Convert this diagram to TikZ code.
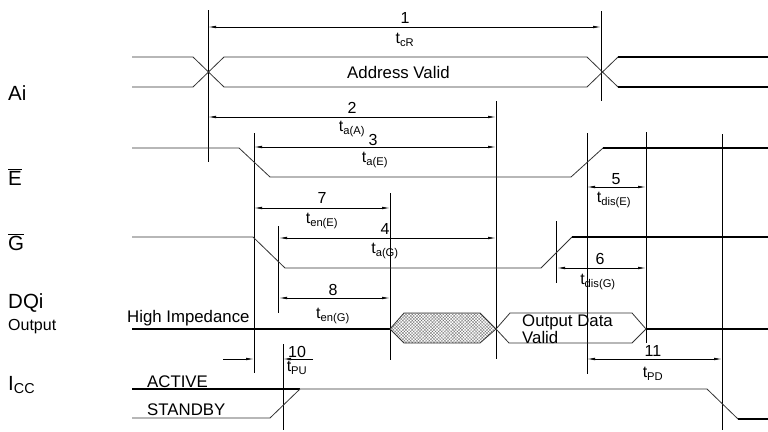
\documentclass[tikz,border=0pt]{standalone}
\usepackage{fontspec}
\setmainfont{Liberation Sans}
\usetikzlibrary{arrows.meta,patterns.meta}
\tikzset{
  sigline/.style={draw=black!80, line width=0.8pt},
  sigbold/.style={draw=black, line width=2.2pt},
  markline/.style={draw=black, line width=0.8pt},
  dim/.style={{Latex[length=8pt,width=2.6pt]}-{Latex[length=8pt,width=2.6pt]}, line width=0.7pt},
  dimend/.style={-{Latex[length=8pt,width=2.6pt]}, line width=0.7pt},
  num/.style={inner sep=0pt, font=\fontsize{16}{18}\selectfont},
  tlab/.style={inner sep=0pt, font=\fontsize{16}{18}\selectfont},
  txt/.style={inner sep=0pt, anchor=west, font=\fontsize{16.8}{19}\selectfont},
  signame/.style={inner sep=0pt, anchor=west, font=\fontsize{20.5}{23}\selectfont},
}
\begin{document}
\begin{tikzpicture}[x=1pt,y=-1pt]
\useasboundingbox (0,0) rectangle (768,431);

% signal names
\node[signame] (ai) at (8,93) {Ai};
\node[signame] (e) at (8,177) {$\overline{\mbox{E}}$};
\node[signame] (g) at (8,242) {$\overline{\mbox{G}}$};
\node[signame] (dqi) at (8,303) {DQi};
\node[txt, font=\fontsize{16}{18}\selectfont] (outp) at (8,327) {Output};
\node[signame] (icc) at (8,385) {I\textsubscript{CC}};

% marker lines
\foreach \x/\a/\b in {208/10/162, 601/11/101, 496/101/359, 254/133/373,
    587/133/374, 646/132/343, 722/134/430, 278/226/313, 390/193/360,
    556/221/283, 283/344/430}
  \draw[markline] (\x,\a) -- (\x,\b);

% Ai
\draw[sigline] (132,57) -- (193,57) -- (224,87) -- (587,87) -- (618,57);
\draw[sigline] (132,87) -- (193,87) -- (224,57) -- (587,57) -- (618,87);
\draw[sigbold] (618,57) -- (768,57);
\draw[sigbold] (618,87) -- (768,87);
\node[txt] (addr) at (347,72) {Address Valid};

% E
\draw[sigline] (132,148) -- (239,148) -- (270,177) -- (571,177) -- (603,148);
\draw[sigbold] (603,148) -- (768,148);

% G
\draw[sigline] (132,237) -- (253,237) -- (285,268) -- (541,268) -- (572,237);
\draw[sigbold] (572,237) -- (768,237);

% DQi
\draw[sigbold] (132,329) -- (390,329);
\draw[sigline, pattern={Hatch[angle=45,distance=2.2pt,line width=0.3pt]}, pattern color=black!55]
  (390,329) -- (404,313) -- (480,313) -- (496,329) -- (480,343) -- (404,343) -- cycle;
\draw[sigline] (496,329) -- (510,313) -- (632,313) -- (646,329) -- (632,343) -- (509,343) -- cycle;
\draw[sigbold] (646,329) -- (768,329);
\node[txt] (hiz) at (127,318) {High Impedance};
\node[txt] (odv1) at (522,322) {Output Data};
\node[txt] (odv2) at (522,337) {Valid};

% ICC
\draw[sigbold] (132,389) -- (300,389);
\draw[sigline] (300,389) -- (707,389) -- (738,419);
\draw[sigbold] (738,419) -- (768,419);
\draw[sigline] (132,418) -- (270,418) -- (300,389);
\node[txt] (act) at (147,382) {ACTIVE};
\node[txt] (stb) at (147,410) {STANDBY};

% timing arrows
\coordinate (a1) at (208,27);  \coordinate (b1) at (601,27);
\coordinate (a2) at (208,117); \coordinate (b2) at (496,117);
\coordinate (a3) at (254,147); \coordinate (b3) at (496,147);
\coordinate (a4) at (279,238); \coordinate (b4) at (496,238);
\coordinate (a5) at (587,187); \coordinate (b5) at (646,187);
\coordinate (a6) at (557,268); \coordinate (b6) at (646,268);
\coordinate (a7) at (254,208); \coordinate (b7) at (390,208);
\coordinate (a8) at (279,298); \coordinate (b8) at (390,298);
\coordinate (a11) at (587,359); \coordinate (b11) at (722,359);
\coordinate (a10) at (223,359); \coordinate (b10) at (254,359);
\coordinate (c10) at (313,359); \coordinate (d10) at (283,359);
\foreach \i in {1,2,3,4,5,6,7,8,11}
  \draw[dim] (a\i) -- (b\i);
\draw[dimend] (a10) -- (b10);
\draw[dimend] (c10) -- (d10);

\node[num] (n1) at (405,18) {1};   \node[tlab] (t1) at (405,40) {t\textsubscript{cR}};
\node[num] (n2) at (352,108) {2};  \node[tlab] (t2) at (352,129) {t\textsubscript{a(A)}};
\node[num] (n3) at (373,140) {3};  \node[tlab] (t3) at (375,160) {t\textsubscript{a(E)}};
\node[num] (n4) at (385,229) {4};  \node[tlab] (t4) at (385,251) {t\textsubscript{a(G)}};
\node[num] (n5) at (616,179) {5};  \node[tlab] (t5) at (614,200) {t\textsubscript{dis(E)}};
\node[num] (n6) at (600,259) {6};  \node[tlab] (t6) at (598,282) {t\textsubscript{dis(G)}};
\node[num] (n7) at (322,198) {7};  \node[tlab] (t7) at (322,221) {t\textsubscript{en(E)}};
\node[num] (n8) at (333,290) {8};  \node[tlab] (t8) at (333,316) {t\textsubscript{en(G)}};
\node[num] (n10) at (297,352) {10}; \node[tlab] (t10) at (297,368) {t\textsubscript{PU}};
\node[num] (n11) at (653,351) {11}; \node[tlab] (t11) at (653,374) {t\textsubscript{PD}};
\end{tikzpicture}
\end{document}
